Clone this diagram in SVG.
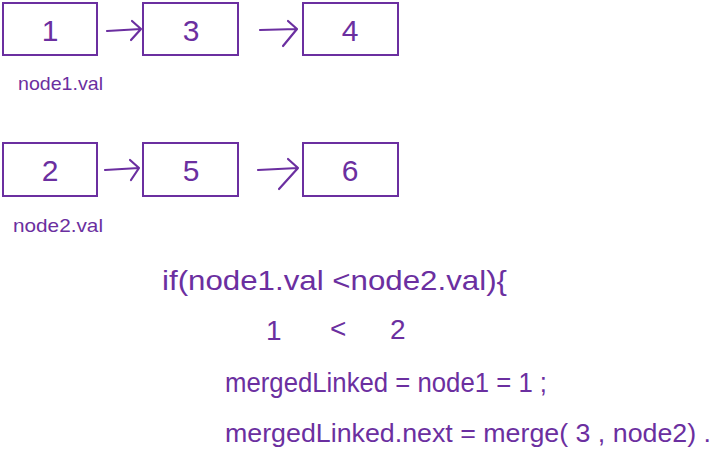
<svg xmlns="http://www.w3.org/2000/svg" width="721" height="455" viewBox="0 0 721 455">
<style>
.box{fill:none;stroke:#6b2fa0;stroke-width:2}
.arr{fill:none;stroke:#6b2fa0;stroke-width:2.2;stroke-linecap:round;stroke-linejoin:round}
text{font-family:"Liberation Sans",sans-serif;fill:#6b2fa0}
.num{font-size:30px;text-anchor:middle;font-weight:300}
.lbl{font-size:19px}
.code{font-size:28px}
.code2{font-size:26px}
</style>
<rect width="721" height="455" fill="#ffffff"/>
<g id="node-1"><rect class="box" x="3" y="3" width="94" height="52"/><text class="num" x="50" y="41">1</text></g>
<g id="node-3"><rect class="box" x="143" y="3" width="95" height="52"/><text class="num" x="191" y="41">3</text></g>
<g id="node-4"><rect class="box" x="303" y="3" width="95" height="52"/><text class="num" x="350" y="41">4</text></g>
<g id="node-2"><rect class="box" x="3" y="143" width="94" height="53"/><text class="num" x="50" y="181">2</text></g>
<g id="node-5"><rect class="box" x="143" y="143" width="95" height="53"/><text class="num" x="191" y="181">5</text></g>
<g id="node-6"><rect class="box" x="303" y="143" width="95" height="53"/><text class="num" x="350" y="181">6</text></g>
<g id="connectors">
<path class="arr" d="M107 31 L141 29 M132 21 L141 29 L131 40"/>
<path class="arr" d="M260 30 L297 29 M288 21 L297 29 L283 46"/>
<path class="arr" d="M105 170 L139 168 M130 160 L139 168 L131 180"/>
<path class="arr" d="M258 170 L298 168 M288 159 L298 168 L279 189"/>
</g>
<g id="labels">
<text class="lbl" x="18" y="90" textLength="85" lengthAdjust="spacingAndGlyphs">node1.val</text>
<text class="lbl" x="13" y="232" textLength="90" lengthAdjust="spacingAndGlyphs">node2.val</text>
<text class="code" x="162" y="290" textLength="345" lengthAdjust="spacingAndGlyphs">if(node1.val &lt;node2.val){</text>
<text class="code" x="266" y="340">1</text>
<text class="code" x="330" y="338">&lt;</text>
<text class="code" x="390" y="339">2</text>
<text class="code" x="225" y="392" textLength="322" lengthAdjust="spacingAndGlyphs">mergedLinked = node1 = 1 ;</text>
<text class="code2" x="225" y="442" textLength="486" lengthAdjust="spacingAndGlyphs">mergedLinked.next = merge( 3 , node2) .</text>
</g>
</svg>
